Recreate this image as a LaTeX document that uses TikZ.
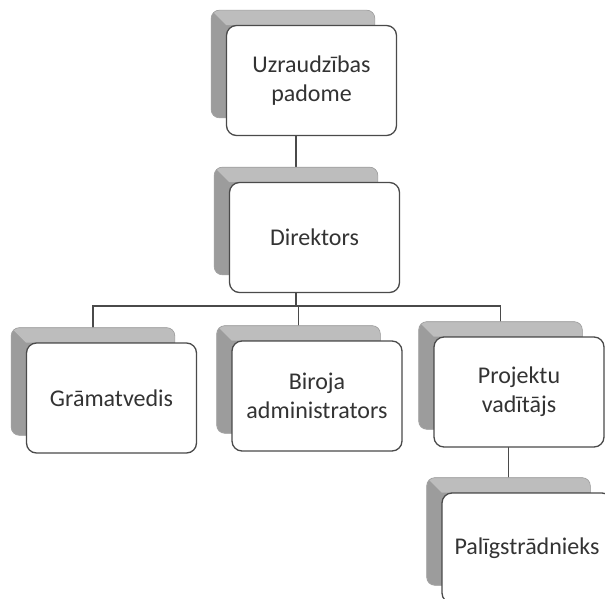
\documentclass[tikz,border=0pt]{standalone}
\usepackage{fontspec}
\setmainfont{Carlito}
\usetikzlibrary{calc,backgrounds}
\definecolor{txt}{HTML}{333333}
\definecolor{edge}{HTML}{4A4A4A}
\definecolor{sideface}{HTML}{9C9C9C}
\definecolor{topface}{HTML}{BDBDBD}
\tikzset{
  unit/.style={draw=edge, line width=1.3pt, fill=white, rounded corners=10pt,
    minimum width=170pt, minimum height=110pt, inner sep=0pt, align=center,
    text=txt, font=\fontsize{24}{29}\selectfont},
  shadowbox/.style={draw=gray!75, line width=0.6pt, fill=sideface, rounded corners=8pt,
    minimum width=163pt, minimum height=107pt, inner sep=0pt},
  topfill/.style={fill=topface},
  link/.style={draw=edge, line width=1.2pt}
}
\newcommand\orgunit[4]{%
  \node[shadowbox] (#1s) at (#2-18.5,#3-16.5) {};
  \begin{scope}
    \clip[rounded corners=8pt] (#1s.north west) rectangle (#1s.south east);
    \fill[topfill] (#1s.north west) -- (#1s.north east) -- ($(#1s.north east)+(0,15)$) -- ($(#1s.north west)+(15,15)$) -- cycle;
  \end{scope}
  \draw[draw=gray!75, line width=0.6pt, rounded corners=8pt] (#1s.north west) rectangle (#1s.south east);
  \node[unit] (#1) at (#2,#3) {#4};
}
\begin{document}
\begin{tikzpicture}[x=1pt,y=-1pt]
\useasboundingbox (0,0) rectangle (605,599);
\clip (0,0) rectangle (605,599);
\orgunit{u}{311.5}{80.5}{Uzraudzības\\padome}
\orgunit{d}{314.5}{237.5}{Direktors}
\orgunit{g}{111.5}{398}{Grāmatvedis}
\orgunit{b}{317}{396}{Biroja\\administrators}
\orgunit{p}{519}{392}{Projektu\\vadītājs}
\orgunit{l}{527}{548}{Palīgstrādnieks}
\coordinate (bus) at (0,306);
\begin{pgfonlayer}{background}
  \fill[white] (0,0) rectangle (605,599);
  \draw[link] (ds.north |- us.south) -- (ds.north);
  \draw[link] (ds.south) -- (ds.south |- bus);
  \draw[link] (gs.north) |- (ps.north |- bus) -- (ps.north);
  \draw[link] (bs.north) -- (bs.north |- bus);
  \draw[link] (ls.north |- ps.south) -- (ls.north);
\end{pgfonlayer}
\end{tikzpicture}
\end{document}
